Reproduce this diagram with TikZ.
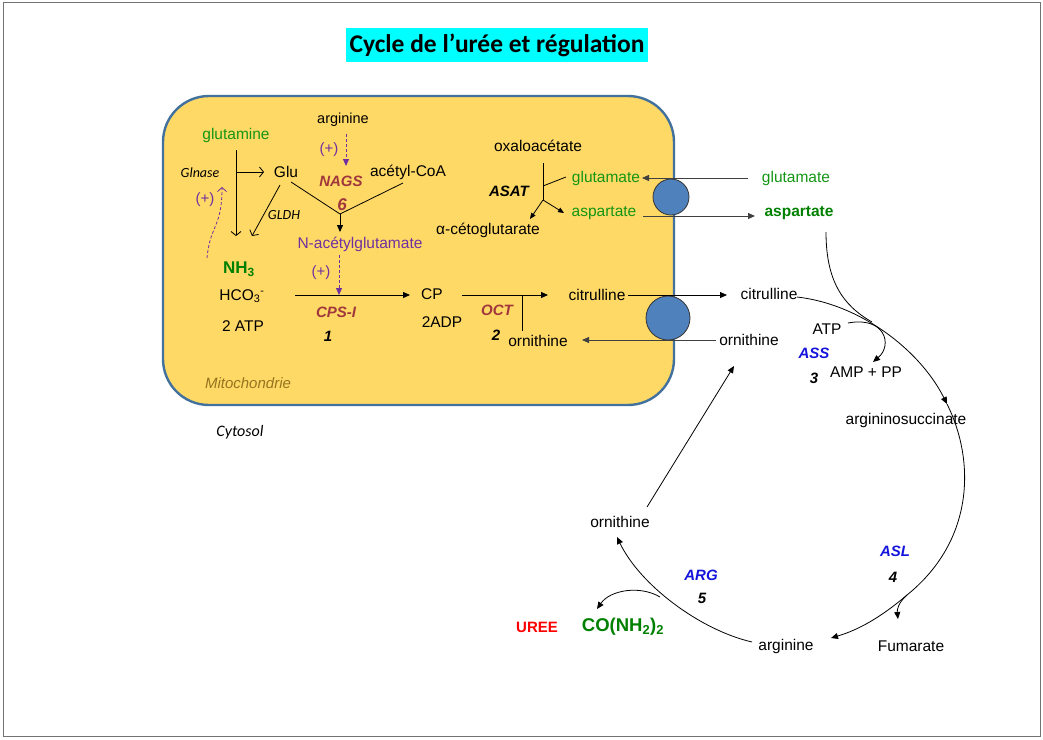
\documentclass[tikz,border=0pt]{standalone}
\usepackage{fontspec}
\setmainfont{Liberation Sans}
\newfontfamily\calibri{Carlito}
\usetikzlibrary{arrows.meta,positioning}
\definecolor{mitofill}{HTML}{FFD966}
\definecolor{mitoedge}{HTML}{41719C}
\definecolor{poreblue}{HTML}{4F81BD}
\definecolor{titlecyan}{RGB}{0,255,255}
\definecolor{molgreen}{RGB}{20,150,20}
\definecolor{darkgreen}{RGB}{0,128,0}
\definecolor{regpurple}{HTML}{7030A0}
\definecolor{enzbrown}{RGB}{160,55,60}
\definecolor{enzblue}{RGB}{20,20,220}
\definecolor{mitotext}{RGB}{150,115,30}
\tikzset{
  mol/.style={inner sep=1pt, outer sep=3pt, font=\fontsize{15.5}{18}\selectfont},
  molsmall/.style={mol, font=\fontsize{14.5}{17}\selectfont},
  enz/.style={inner sep=1pt, font=\fontsize{15}{17}\selectfont\bfseries\itshape},
  num/.style={enz},
  calnote/.style={inner sep=1pt, font=\fontsize{14}{16}\selectfont\calibri\itshape},
  act/.style={inner sep=1pt, text=regpurple, font=\fontsize{15}{17}\selectfont},
  bigmol/.style={inner sep=1pt, font=\fontsize{18.5}{20}\selectfont\bfseries},
  pore/.style={circle, draw=black!80, fill=poreblue, line width=0.8pt, inner sep=0pt},
  link/.style={line width=0.8pt, draw=black},
  flow/.style={link, -{Triangle[length=7pt,width=6pt]}},
  open/.style={link, -{Straight Barb[length=4pt,width=10pt]}},
  reg/.style={line width=0.8pt, draw=regpurple, dash pattern=on 3pt off 2pt},
  thru/.style={line width=0.8pt, draw=black!75, -{Triangle[length=7pt,width=6pt]}},
}
\begin{document}
\begin{tikzpicture}[x=1pt,y=-1pt]
  \useasboundingbox (0,0) rectangle (1043,739);
  \draw[black!55, line width=0.8pt] (3,2) rectangle (1040,736);

  % title
  \node[fill=titlecyan, minimum width=302, minimum height=34, inner sep=0pt,
    font=\fontsize{25.5}{28}\selectfont\calibri\bfseries] (ttl) at (497,45)
    {Cycle de l’urée et régulation};

  % mitochondrion
  \node[draw=mitoedge, fill=mitofill, line width=2.4pt, rounded corners=46pt,
    minimum width=511, minimum height=309] (mito) at (418.5,250.5) {};
  \node[mol, text=mitotext, font=\fontsize{15}{17}\selectfont\itshape] (mitolbl) at (248,383) {Mitochondrie};
  \node[calnote, font=\fontsize{16}{18}\selectfont\calibri\itshape] (cyto) at (240,432) {Cytosol};

  % glutaminase, NAGS
  \node[mol, text=molgreen] (gln) at (236,135) {glutamine};
  \node[molsmall] (argtop) at (343,120) {arginine};
  \node[mol] (glu) at (286,172) {Glu};
  \node[mol] (acoa) at (408,172) {acétyl-CoA};
  \node[calnote] (glnase) at (200,173) {Glnase};
  \node[calnote] (gldh) at (284,215) {GLDH};
  \node[enz, text=enzbrown] (nags) at (341,181) {NAGS};
  \node[num, text=enzbrown, font=\fontsize{17}{19}\selectfont\bfseries\itshape] (n6) at (342,205) {6};
  \node[mol, text=regpurple] (nag) at (360,244) {N-acétylglutamate};
  \node[act] (act1) at (329,150) {(+)};
  \node[act] (act2) at (205,200) {(+)};
  \node[act] (act3) at (321,273) {(+)};

  \coordinate (glnA) at (236,150);
  \coordinate (glnB) at (236,236);
  \coordinate (glnJ) at (236,172);
  \coordinate (glnC) at (264,172);
  \coordinate (gluA) at (280,185);
  \coordinate (gluB) at (252,236);
  \coordinate (gluC) at (291,182);
  \coordinate (acoaA) at (403,183);
  \coordinate (nagsJ) at (340,214);
  \coordinate (nagT) at (340,232);
  \draw[open] (glnA) -- (glnB);
  \draw[open] (glnJ) -- (glnC);
  \draw[open] (gluA) -- (gluB);
  \draw[link] (gluC) -- (nagsJ) -- (acoaA);
  \draw[flow] (nagsJ) -- (nagT);
  \coordinate (argA) at (346,134);
  \coordinate (argB) at (346,166);
  \draw[reg, -{Triangle[length=7pt,width=6pt]}] (argA) -- (argB);
  \coordinate (wv1) at (207,258);
  \coordinate (wv2) at (222,187);
  \draw[reg, -{Straight Barb[length=4pt,width=9pt]}] (wv1) .. controls (210,225) and (222,228) .. (wv2);

  % CPS-I and OCT
  \node[bigmol, text=darkgreen, font=\fontsize{17}{19}\selectfont\bfseries] (nh3) at (239,269) {NH\textsubscript{3}};
  \node[mol] (hco) at (242,296) {HCO\textsubscript{3}\textsuperscript{-}};
  \node[mol] (atp1) at (243,326) {2 ATP};
  \node[enz, text=enzbrown] (cps) at (336,312) {CPS-I};
  \node[num] (n1) at (328,336) {1};
  \node[mol] (cp) at (432,294) {CP};
  \node[mol] (adp) at (442,322) {2ADP};
  \node[enz, text=enzbrown] (oct) at (497,310) {OCT};
  \node[num] (n2) at (496,335) {2};
  \node[mol] (citin) at (597,295) {citrulline};
  \node[mol] (ornin) at (538,341) {ornithine};

  \coordinate (cpsA) at (295,295);
  \coordinate (cpsB) at (410,295);
  \coordinate (cpsJ) at (339,295);
  \coordinate (cpsR) at (339,255);
  \coordinate (octA) at (462,295);
  \coordinate (octB) at (548,295);
  \coordinate (octJ) at (522,295);
  \coordinate (octC) at (522,331);
  \draw[flow] (cpsA) -- (cpsB);
  \draw[reg, -{Triangle[length=7pt,width=6pt]}] (cpsR) -- (cpsJ);
  \draw[flow] (octA) -- (octB);
  \draw[link] (octJ) -- (octC);

  % ASAT
  \node[mol] (oaa) at (538,146) {oxaloacétate};
  \node[enz] (asat) at (509,191) {ASAT};
  \node[mol, text=molgreen] (gluin) at (606,178) {glutamate};
  \node[mol, text=molgreen] (aspin) at (604,213) {aspartate};
  \node[mol] (akg) at (488,230) {α-cétoglutarate};
  \coordinate (asatT) at (543,163);
  \coordinate (asatM) at (543,186);
  \coordinate (asatG) at (566,177);
  \coordinate (asatB) at (543,200);
  \coordinate (akgT) at (530,219);
  \coordinate (aspT) at (564,213);
  \draw[link] (asatT) -- (asatB);
  \draw[link] (asatM) -- (asatG);
  \draw[flow, -{Triangle[length=6pt,width=5pt]}] (asatB) -- (akgT);
  \draw[flow, -{Triangle[length=6pt,width=5pt]}] (asatB) -- (aspT);

  % transporters
  \node[mol, text=molgreen] (gluout) at (796,178) {glutamate};
  \node[mol, text=darkgreen, font=\fontsize{15.5}{18}\selectfont\bfseries] (aspout) at (799,213) {aspartate};
  \node[mol] (citout) at (769,294) {citrulline};
  \node[mol] (ornout) at (749,340) {ornithine};
  \node[pore, minimum size=36pt] (pore1) at (671,197) {};
  \node[pore, minimum size=44pt] (pore2) at (668,318) {};
  \coordinate (gluA2) at (748,178);
  \coordinate (gluB2) at (642,178);
  \coordinate (aspA2) at (643,216);
  \coordinate (aspB2) at (755,216);
  \coordinate (citA2) at (628,295);
  \coordinate (citB2) at (727,295);
  \coordinate (ornA2) at (716,340);
  \coordinate (ornB2) at (582,340);
  \draw[thru] (gluA2) -- (gluB2);
  \draw[thru] (aspA2) -- (aspB2);
  \draw[flow] (citA2) -- (citB2);
  \draw[thru] (ornA2) -- (ornB2);

  % cytosolic cycle
  \node[mol] (atp2) at (827,329) {ATP};
  \node[enz, text=enzblue] (ass) at (814,353) {ASS};
  \node[num] (n3) at (814,378) {3};
  \node[mol] (amp) at (866,372) {AMP + PP};
  \node[mol] (asuc) at (906,420) {argininosuccinate};
  \node[enz, text=enzblue] (asl) at (895,551) {ASL};
  \node[num] (n4) at (893,577) {4};
  \node[mol] (fum) at (911,646) {Fumarate};
  \node[mol] (argbot) at (786,646) {arginine};
  \node[enz, text=enzblue] (arg) at (701,575) {ARG};
  \node[num] (n5) at (702,598) {5};
  \node[mol] (ornbot) at (620,522) {ornithine};
  \node[mol, text=red, font=\fontsize{15}{17}\selectfont\bfseries] (uree) at (537,627) {UREE};
  \node[bigmol, text=darkgreen] (urea) at (623,627) {CO(NH\textsubscript{2})\textsubscript{2}};

  \coordinate (citC) at (797,297);
  \coordinate (cyc1) at (947,404);
  \coordinate (cyc2) at (907,595);
  \coordinate (cyc3) at (660,597);
  \coordinate (argE) at (831,638);
  \coordinate (aspC) at (826,232);
  \coordinate (assJ) at (872,322);
  \coordinate (atpC) at (848,323);
  \coordinate (ampE) at (873,362);
  \coordinate (fumE) at (898,619);
  \coordinate (argS) at (752,642);
  \coordinate (ornE) at (617,537);
  \coordinate (ureaE) at (597,609);
  \coordinate (ornS) at (647,507);
  \coordinate (ornT) at (734,366);
  \draw[flow] (citC) .. controls (860,304) and (920,350) .. (cyc1);
  \draw[flow] (cyc1) .. controls (975,460) and (975,540) .. (cyc2)
    .. controls (880,618) and (858,630) .. (argE);
  \draw[link] (aspC) .. controls (826,280) and (842,305) .. (assJ);
  \draw[flow] (atpC) .. controls (885,316) and (893,345) .. (ampE);
  \draw[flow] (cyc2) .. controls (898,603) and (897,610) .. (fumE);
  \draw[flow] (argS) .. controls (700,630) and (640,585) .. (ornE);
  \draw[flow] (cyc3) .. controls (640,585) and (610,590) .. (ureaE);
  \draw[flow] (ornS) -- (ornT);
\end{tikzpicture}
\end{document}
